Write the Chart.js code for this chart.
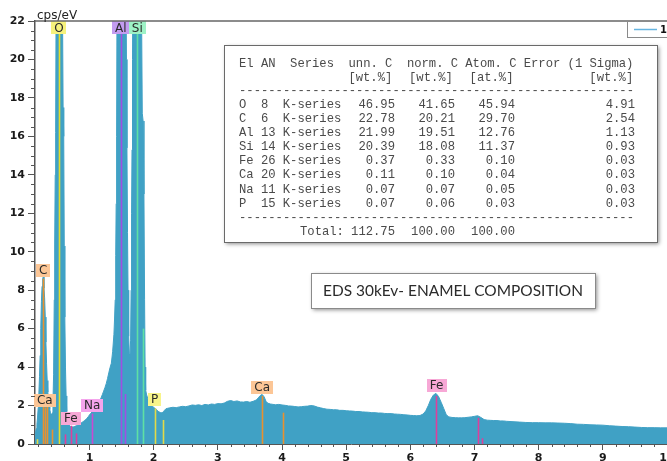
<!DOCTYPE html>
<html>
<head>
<meta charset="utf-8">
<script src="https://cdn.jsdelivr.net/npm/chart.js@4"></script>
<style>
  html, body { margin: 0; padding: 0; background: #ffffff; }
  #wrap { width: 667px; height: 461px; position: relative; overflow: hidden; }
  canvas { display: block; }
</style>
</head>
<body>
<div id="wrap"><canvas id="eds" width="667" height="461"></canvas></div>
<script>
// ---- EDS spectrum (energy in keV, intensity in cps/eV) ----
const energyKeV = [
  0.15, 0.16, 0.17, 0.18, 0.19, 0.20, 0.21, 0.22, 0.23, 0.24,
  0.25, 0.26, 0.27, 0.28, 0.29, 0.30, 0.31, 0.32, 0.33, 0.34,
  0.35, 0.36, 0.37, 0.38, 0.39, 0.40, 0.41, 0.42, 0.43, 0.44,
  0.450, 0.457, 0.465, 0.472, 0.480, 0.490, 0.505, 0.525, 0.545, 0.565,
  0.578, 0.588, 0.598, 0.606, 0.615, 0.625, 0.635, 0.645, 0.655, 0.665,
  0.68, 0.70, 0.72, 0.74, 0.76, 0.78, 0.80, 0.82, 0.84, 0.86,
  0.88, 0.90, 0.92, 0.94, 0.96, 0.98, 1.00, 1.02, 1.04, 1.06,
  1.08, 1.10, 1.12, 1.14, 1.16, 1.18, 1.20, 1.22, 1.24, 1.26,
  1.28, 1.30, 1.32, 1.34, 1.36, 1.38, 1.39, 1.40, 1.408, 1.415,
  1.422, 1.43, 1.44, 1.46, 1.49, 1.52, 1.55, 1.565, 1.575, 1.583,
  1.592, 1.60, 1.61, 1.62, 1.63, 1.64, 1.648, 1.655, 1.662, 1.67,
  1.68, 1.70, 1.74, 1.78, 1.80, 1.812, 1.822, 1.835, 1.848, 1.858,
  1.866, 1.875, 1.89, 1.91, 1.93, 1.95, 1.97, 1.99, 2.01, 2.03,
  2.05, 2.07, 2.09, 2.11, 2.13, 2.15, 2.17, 2.19, 2.22, 2.25,
  2.30, 2.35, 2.40, 2.45, 2.50, 2.55, 2.60, 2.65, 2.70, 2.75,
  2.80, 2.85, 2.90, 2.95, 3.00, 3.05, 3.10, 3.15, 3.20, 3.25,
  3.30, 3.35, 3.40, 3.45, 3.50, 3.55, 3.60, 3.63, 3.66, 3.69,
  3.72, 3.75, 3.78, 3.82, 3.86, 3.90, 3.95, 4.00, 4.05, 4.10,
  4.15, 4.20, 4.25, 4.30, 4.35, 4.40, 4.45, 4.50, 4.55, 4.60,
  4.65, 4.70, 4.75, 4.80, 4.85, 4.90, 4.95, 5.00, 5.05, 5.10,
  5.15, 5.20, 5.25, 5.30, 5.35, 5.40, 5.45, 5.50, 5.55, 5.60,
  5.65, 5.70, 5.75, 5.80, 5.85, 5.90, 5.95, 6.00, 6.05, 6.10,
  6.15, 6.20, 6.24, 6.28, 6.32, 6.36, 6.40, 6.44, 6.48, 6.52,
  6.56, 6.60, 6.65, 6.70, 6.75, 6.80, 6.85, 6.90, 6.95, 7.00,
  7.05, 7.10, 7.15, 7.20, 7.25, 7.30, 7.35, 7.40, 7.45, 7.50,
  7.60, 7.70, 7.80, 7.90, 8.00, 8.10, 8.20, 8.30, 8.40, 8.50,
  8.60, 8.70, 8.80, 8.90, 9.00, 9.10, 9.20, 9.30, 9.40, 9.50,
  9.60, 9.70, 9.80, 9.90, 10.00
];
const countsPerEV = [
  0.50, 0.62, 0.80, 1.02, 1.40, 1.90, 2.60, 3.50, 4.60, 6.00,
  7.40, 8.20, 8.60, 8.70, 8.10, 7.60, 6.60, 5.30, 4.20, 3.30,
  2.70, 2.30, 2.00, 1.80, 1.65, 1.55, 1.48, 1.62, 2.20, 3.60,
  7.5, 10.4, 14.0, 16.2, 24.0, 31.0, 35.0, 37.0, 35.0, 30.0,
  23.0, 17.5, 16.0, 10.3, 6.6, 4.0, 2.5, 1.70, 1.30, 1.10,
  0.98, 0.92, 0.90, 0.88, 0.90, 0.93, 0.96, 1.00, 1.03, 1.07,
  1.12, 1.16, 1.22, 1.27, 1.34, 1.42, 1.52, 1.60, 1.67, 1.74,
  1.82, 1.90, 2.00, 2.12, 2.25, 2.40, 2.57, 2.75, 2.93, 3.14,
  3.40, 3.70, 3.98, 4.20, 4.80, 5.70, 6.50, 7.50, 9.8, 12.5,
  16.0, 25.0, 32.0, 36.0, 38.0, 37.0, 33.0, 26.0, 20.0, 15.4,
  11.0, 8.0, 5.6, 4.7, 4.5, 5.4, 8.0, 12.0, 15.3, 20.0,
  27.0, 34.0, 38.0, 35.0, 29.0, 22.0, 17.2, 16.8, 13.0, 7.5,
  4.0, 2.8, 2.55, 2.35, 2.20, 2.08, 2.00, 1.93, 1.88, 1.83,
  1.76, 1.70, 1.66, 1.63, 1.62, 1.68, 1.76, 1.83, 1.86, 1.88,
  1.91, 1.89, 1.93, 1.96, 1.94, 1.98, 2.03, 2.01, 2.04, 2.00,
  2.06, 2.03, 2.08, 2.06, 2.10, 2.09, 2.13, 2.22, 2.26, 2.21,
  2.24, 2.19, 2.18, 2.21, 2.17, 2.22, 2.29, 2.40, 2.52, 2.58,
  2.46, 2.22, 2.12, 2.08, 2.06, 2.04, 2.06, 2.03, 2.01, 1.98,
  1.97, 1.95, 1.93, 1.94, 1.96, 1.97, 2.00, 1.98, 1.92, 1.88,
  1.84, 1.81, 1.80, 1.78, 1.78, 1.75, 1.75, 1.73, 1.72, 1.71,
  1.69, 1.69, 1.67, 1.66, 1.65, 1.63, 1.63, 1.61, 1.61, 1.59,
  1.58, 1.58, 1.56, 1.55, 1.54, 1.52, 1.51, 1.49, 1.48, 1.47,
  1.48, 1.56, 1.72, 2.00, 2.33, 2.55, 2.63, 2.47, 2.17, 1.85,
  1.52, 1.41, 1.38, 1.37, 1.36, 1.36, 1.37, 1.39, 1.41, 1.44,
  1.47, 1.38, 1.27, 1.24, 1.23, 1.22, 1.22, 1.20, 1.20, 1.18,
  1.16, 1.14, 1.12, 1.11, 1.11, 1.10, 1.10, 1.09, 1.08, 1.06,
  1.03, 1.02, 1.00, 0.99, 0.98, 0.95, 0.93, 0.91, 0.90, 0.88,
  0.86, 0.85, 0.85, 0.84, 0.84
];
const seriesName = '1';

// ---- axes ----
const energyRange = [0.15, 10];
const intensityRange = [0, 22];
const energyTicks = [1, 2, 3, 4, 5, 6, 7, 8, 9, 10];
const intensityTicks = [0, 2, 4, 6, 8, 10, 12, 14, 16, 18, 20, 22];
const energyMinorStep = 0.2;
const intensityMinorStep = 0.5;
const intensityUnit = 'cps/eV';

// ---- element line markers (energy keV, marker height cps/eV) ----
const markerElement = ['P', 'C', 'Ca', 'Ca', 'Ca', 'O', 'Fe', 'Fe', 'Fe', 'Na', 'Al', 'Al', 'Si', 'Si', 'P', 'P', 'Ca', 'Ca', 'Fe', 'Fe', 'Fe'];
const markerEnergy  = [0.183, 0.277, 0.302, 0.341, 0.417, 0.525, 0.615, 0.705, 0.792, 1.041, 1.486, 1.557, 1.740, 1.836, 2.013, 2.139, 3.690, 4.012, 6.400, 7.058, 7.110];
const markerHeight  = [0.25, 8.6, 1.9, 2.0, 0.75, 22, 0.5, 0.95, 0.55, 1.58, 22, 2.6, 22, 6.0, 1.85, 1.25, 2.5, 1.63, 2.5, 1.36, 0.3];

// ---- peak labels (element, energy keV, label base height cps/eV) ----
const labelElement = ['O', 'Al', 'Si', 'C', 'Ca', 'Fe', 'Na', 'P', 'Ca', 'Fe'];
const labelEnergy  = [0.525, 1.486, 1.745, 0.279, 0.302, 0.707, 1.042, 2.015, 3.690, 6.410];
const labelHeight  = [21.3, 21.3, 21.3, 8.7, 1.93, 1.0, 1.67, 1.98, 2.62, 2.7];

// ---- quantification table ----
const tblElement = ['O', 'C', 'Al', 'Si', 'Fe', 'Ca', 'Na', 'P'];
const tblAtomicNo = [8, 6, 13, 14, 26, 20, 11, 15];
const tblSeries = ['K-series', 'K-series', 'K-series', 'K-series', 'K-series', 'K-series', 'K-series', 'K-series'];
const tblUnnC  = ['46.95', '22.78', '21.99', '20.39', '0.37', '0.11', '0.07', '0.07'];
const tblNormC = ['41.65', '20.21', '19.51', '18.08', '0.33', '0.10', '0.07', '0.06'];
const tblAtomC = ['45.94', '29.70', '12.76', '11.37', '0.10', '0.04', '0.05', '0.03'];
const tblError = ['4.91', '2.54', '1.13', '0.93', '0.03', '0.03', '0.03', '0.03'];
const tblTotals = ['112.75', '100.00', '100.00'];
const chartTitle = 'EDS 30kEv- ENAMEL COMPOSITION';

// ---- styling ----
const spectrumColor = '#40a1c5';
const axisColor = '#555555';
const lineColors = {
  O: '#e3dd2c', Al: '#a04fe2', Si: '#5ee0a4', C: '#e8912f', Ca: '#e8912f',
  Fe: '#df3f9c', Na: '#c84ad2', P: '#e2da48'
};
const labelColors = {
  O: '#f6f27c', Al: '#c39cf0', Si: '#9ef2c6', C: '#fcc696', Ca: '#fcc696',
  Fe: '#f7a8d6', Na: '#f4a4ec', P: '#f8f48a'
};

const spectrumPoints = energyKeV.map((e, i) => ({ x: e, y: countsPerEV[i] }));

// Element markers, peak tags, minor ticks and text panels
const overlay = {
  id: 'edsOverlay',
  afterDatasetsDraw(chart) {
    const ctx = chart.ctx;
    const xs = chart.scales.x, ys = chart.scales.y;
    const area = chart.chartArea;
    ctx.save();
    ctx.beginPath();
    ctx.rect(area.left, area.top, area.right - area.left, area.bottom - area.top);
    ctx.clip();
    // vertical element lines
    ctx.lineWidth = 1.6;
    for (let i = 0; i < markerEnergy.length; i++) {
      const px = Math.round(xs.getPixelForValue(markerEnergy[i])) + 0.5;
      const top = ys.getPixelForValue(Math.min(markerHeight[i], intensityRange[1]));
      const bot = ys.getPixelForValue(0);
      ctx.strokeStyle = lineColors[markerElement[i]];
      ctx.beginPath();
      ctx.moveTo(px, bot);
      ctx.lineTo(px, top);
      ctx.stroke();
    }
    ctx.restore();

    // element tags
    ctx.save();
    ctx.font = '12px "DejaVu Sans"';
    ctx.textAlign = 'center';
    ctx.textBaseline = 'middle';
    for (let i = 0; i < labelElement.length; i++) {
      const txt = labelElement[i];
      const cx = xs.getPixelForValue(labelEnergy[i]);
      const bottom = ys.getPixelForValue(labelHeight[i]);
      const w = ctx.measureText(txt).width + 6;
      const h = 13;
      ctx.fillStyle = labelColors[txt];
      ctx.fillRect(Math.round(cx - w / 2), Math.round(bottom - h), Math.round(w), h);
      ctx.fillStyle = '#2a2a2a';
      ctx.fillText(txt, cx, bottom - h / 2 + 0.5);
    }
    ctx.restore();
  },
  afterDraw(chart) {
    const ctx = chart.ctx;
    const xs = chart.scales.x, ys = chart.scales.y;
    const area = chart.chartArea;
    ctx.save();

    // top frame line
    ctx.strokeStyle = '#666666';
    ctx.lineWidth = 1.5;
    ctx.beginPath();
    ctx.moveTo(area.left, area.top);
    ctx.lineTo(chart.width, area.top);
    ctx.stroke();

    // minor ticks
    ctx.strokeStyle = axisColor;
    ctx.lineWidth = 1;
    for (let v = intensityRange[0]; v <= intensityRange[1] + 1e-9; v += intensityMinorStep) {
      if (intensityTicks.some(t => Math.abs(t - v) < 1e-6)) continue;
      const py = Math.round(ys.getPixelForValue(v)) + 0.5;
      ctx.beginPath();
      ctx.moveTo(area.left - 4, py);
      ctx.lineTo(area.left, py);
      ctx.stroke();
    }
    for (let k = 1; k * energyMinorStep <= energyRange[1] + 1e-9; k++) {
      const v = k * energyMinorStep;
      if (v < energyRange[0]) continue;
      if (energyTicks.some(t => Math.abs(t - v) < 1e-6)) continue;
      const px = Math.round(xs.getPixelForValue(v)) + 0.5;
      ctx.beginPath();
      ctx.moveTo(px, area.bottom);
      ctx.lineTo(px, area.bottom + 3);
      ctx.stroke();
    }

    // unit label
    ctx.fillStyle = '#222222';
    ctx.font = '12px "DejaVu Sans"';
    ctx.textAlign = 'left';
    ctx.textBaseline = 'alphabetic';
    ctx.fillText(intensityUnit, area.left + 2, area.top - 2);

    // legend
    ctx.strokeStyle = '#8a8a8a';
    ctx.lineWidth = 1;
    ctx.strokeRect(627.5, area.top + 0.5, 60, 16);
    ctx.strokeStyle = '#66b4e0';
    ctx.lineWidth = 1.5;
    ctx.beginPath();
    ctx.moveTo(634, area.top + 8.5);
    ctx.lineTo(657, area.top + 8.5);
    ctx.stroke();
    ctx.fillStyle = '#111111';
    ctx.font = 'bold 10px "DejaVu Sans"';
    ctx.textBaseline = 'middle';
    ctx.fillText(chart.data.datasets[0].label, 660, area.top + 9);

    // quantification table panel
    const tb = { x: 224, y: 45, w: 433, h: 197 };
    ctx.save();
    ctx.shadowColor = 'rgba(0,0,0,0.45)';
    ctx.shadowBlur = 4;
    ctx.shadowOffsetX = 2;
    ctx.shadowOffsetY = 2;
    ctx.fillStyle = '#ffffff';
    ctx.fillRect(tb.x, tb.y, tb.w, tb.h);
    ctx.restore();
    ctx.strokeStyle = '#6a6a6a';
    ctx.lineWidth = 1;
    ctx.strokeRect(tb.x + 0.5, tb.y + 0.5, tb.w, tb.h);

    // monospaced grid: column c starts at x0 + c * cw
    const x0 = 239, cw = 7.3;
    const col = c => x0 + c * cw;
    ctx.fillStyle = '#4a4a4a';
    ctx.font = '12.2px "Liberation Mono"';
    ctx.textBaseline = 'middle';
    const put = (t, x, y, align) => { ctx.textAlign = align; ctx.fillText(t, x, y); };
    // header
    put('El', col(0), 63.5, 'left');
    put('AN', col(3), 63.5, 'left');
    put('Series', col(7), 63.5, 'left');
    put('unn. C', col(15), 63.5, 'left');
    put('norm. C', col(23), 63.5, 'left');
    put('Atom. C', col(31), 63.5, 'left');
    put('Error (1 Sigma)', col(39), 63.5, 'left');
    put('[wt.%]', col(21), 78, 'right');
    put('[wt.%]', col(29.3), 78, 'right');
    put('[at.%]', col(37.6), 78, 'right');
    put('[wt.%]', col(54), 78, 'right');
    const dashes = '-'.repeat(54);
    put(dashes, col(0), 90.5, 'left');
    for (let i = 0; i < tblElement.length; i++) {
      const y = 104.5 + i * 14.15;
      put(tblElement[i], col(0), y, 'left');
      put(String(tblAtomicNo[i]), col(3), y, 'left');
      put(tblSeries[i], col(6), y, 'left');
      put(tblUnnC[i], 395, y, 'right');
      put(tblNormC[i], 455, y, 'right');
      put(tblAtomC[i], 515, y, 'right');
      put(tblError[i], 635, y, 'right');
    }
    put(dashes, col(0), 218, 'left');
    put('Total:', 300, 232, 'left');
    put(tblTotals[0], 395, 232, 'right');
    put(tblTotals[1], 455, 232, 'right');
    put(tblTotals[2], 515, 232, 'right');

    // title panel
    const bx = { x: 311, y: 273, w: 284, h: 35 };
    ctx.save();
    ctx.shadowColor = 'rgba(0,0,0,0.45)';
    ctx.shadowBlur = 4;
    ctx.shadowOffsetX = 2;
    ctx.shadowOffsetY = 2;
    ctx.fillStyle = '#ffffff';
    ctx.fillRect(bx.x, bx.y, bx.w, bx.h);
    ctx.restore();
    ctx.strokeStyle = '#8a8a8a';
    ctx.strokeRect(bx.x + 0.5, bx.y + 0.5, bx.w, bx.h);
    ctx.font = '17px Lato';
    const tw = ctx.measureText(chartTitle).width;
    const fs = 17 * 260 / tw;
    ctx.font = fs.toFixed(2) + 'px Lato';
    ctx.fillStyle = '#2b2b2b';
    ctx.textAlign = 'center';
    ctx.textBaseline = 'middle';
    ctx.fillText(chartTitle, bx.x + bx.w / 2, bx.y + bx.h / 2 + 1);

    ctx.restore();
  }
};

new Chart(document.getElementById('eds'), {
  type: 'line',
  data: {
    datasets: [{
      label: seriesName,
      data: spectrumPoints,
      borderColor: spectrumColor,
      backgroundColor: spectrumColor,
      borderWidth: 1,
      pointRadius: 0,
      tension: 0,
      fill: 'origin'
    }]
  },
  options: {
    responsive: false,
    devicePixelRatio: 1,
    animation: false,
    layout: { padding: { top: 21, right: 0, left: 0, bottom: 0 } },
    plugins: { legend: { display: false }, tooltip: { enabled: false } },
    scales: {
      x: {
        type: 'linear',
        min: energyRange[0],
        max: energyRange[1],
        afterBuildTicks: s => { s.ticks = energyTicks.map(v => ({ value: v })); },
        ticks: {
          autoSkip: false, maxRotation: 0, padding: 2,
          color: '#1a1a1a', font: { family: 'DejaVu Sans', size: 11, weight: 'bold' },
          callback: v => String(v)
        },
        grid: { display: true, drawOnChartArea: false, drawTicks: true, tickLength: 6, tickColor: axisColor },
        border: { display: true, color: axisColor, width: 1 },
        afterFit: s => { s.height = 17; s.paddingLeft = 0; s.paddingRight = 0; }
      },
      y: {
        type: 'linear',
        min: intensityRange[0],
        max: intensityRange[1],
        afterBuildTicks: s => { s.ticks = intensityTicks.map(v => ({ value: v })); },
        ticks: {
          padding: 3, color: '#1a1a1a', font: { family: 'DejaVu Sans', size: 11, weight: 'bold' },
          callback: v => String(v)
        },
        grid: { display: true, drawOnChartArea: false, drawTicks: true, tickLength: 7, tickColor: axisColor },
        border: { display: true, color: axisColor, width: 1.5 },
        afterFit: s => { s.width = 35; s.paddingTop = 0; s.paddingBottom = 0; }
      }
    }
  },
  plugins: [overlay]
});
</script>
</body>
</html>
